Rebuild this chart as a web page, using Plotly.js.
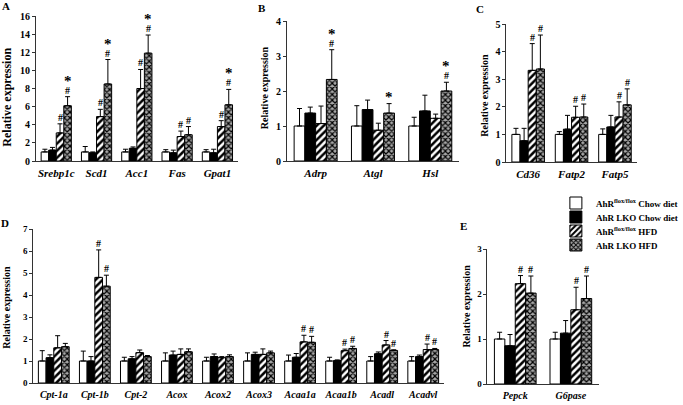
<!DOCTYPE html>
<html><head><meta charset="utf-8">
<script src="https://cdn.plot.ly/plotly-3.0.1.min.js"></script>
<style>html,body{margin:0;padding:0;background:#fff}#chart{width:683px;height:405px}</style>
</head><body><div id="chart"></div>
<script>
const seriesNames = ['AhR<sup>flox/flox</sup> Chow diet', 'AhR LKO Chow diet', 'AhR<sup>flox/flox</sup> HFD', 'AhR LKO HFD'];

// Panel A
const catsA = ['Srebp1c','Scd1','Acc1','Fas','Gpat1'];
const aWtChow = [1.0,1.0,1.0,1.0,1.0];
const aWtChowErr = [0.3,0.6,0.3,0.25,0.25];
const aKoChow = [1.2,0.9,1.4,0.9,0.9];
const aKoChowErr = [0.3,0.1,0.15,0.3,0.4];
const aWtHfd = [3.1,4.9,8.0,2.7,3.8];
const aWtHfdErr = [1.0,0.8,2.1,0.6,0.65];
const aKoHfd = [6.1,8.5,11.9,2.9,6.2];
const aKoHfdErr = [1.0,2.7,2.0,0.9,1.7];
const aHashWtHfd = [1,1,1,1,1];
const aHashKoHfd = [1,1,1,1,1];
const aStarKoHfd = [1,1,1,0,1];

// Panel B
const catsB = ['Adrp','Atgl','Hsl'];
const bWtChow = [1.0,1.0,1.0];
const bWtChowErr = [0.5,0.58,0.25];
const bKoChow = [1.37,1.47,1.43];
const bKoChowErr = [0.17,0.27,0.45];
const bWtHfd = [1.07,0.88,1.22];
const bWtHfdErr = [0.5,0.2,0.12];
const bKoHfd = [2.33,1.37,2.0];
const bKoHfdErr = [0.85,0.27,0.25];
const bHashWtHfd = [0,0,0];
const bHashKoHfd = [1,0,1];
const bStarKoHfd = [1,1,1];

// Panel C
const catsC = ['Cd36','Fatp2','Fatp5'];
const cWtChow = [1.0,1.0,1.0];
const cWtChowErr = [0.22,0.1,0.2];
const cKoChow = [0.77,1.19,1.27];
const cKoChowErr = [0.45,0.5,0.42];
const cWtHfd = [3.32,1.62,1.63];
const cWtHfdErr = [0.97,0.4,0.55];
const cKoHfd = [3.37,1.63,2.07];
const cKoHfdErr = [1.23,0.47,0.58];
const cHashWtHfd = [1,1,1];
const cHashKoHfd = [1,1,1];
const cStarKoHfd = [0,0,0];

// Panel D
const catsD = ['Cpt-1a','Cpt-1b','Cpt-2','Acox','Acox2','Acox3','Acaa1a','Acaa1b','Acadl','Acadvl'];
const dWtChow = [1.0,1.0,1.0,1.0,1.0,1.0,1.0,1.0,1.0,1.0];
const dWtChowErr = [0.47,0.45,0.17,0.37,0.17,0.37,0.27,0.17,0.2,0.2];
const dKoChow = [1.15,1.0,1.1,1.27,1.2,1.3,1.17,1.02,1.33,1.2];
const dKoChowErr = [0.13,0.2,0.1,0.18,0.12,0.1,0.17,0.03,0.08,0.07];
const dWtHfd = [1.6,4.8,1.38,1.3,1.15,1.3,1.87,1.47,1.73,1.52];
const dWtHfdErr = [0.55,1.25,0.12,0.25,0.05,0.25,0.3,0.07,0.2,0.25];
const dKoHfd = [1.65,4.4,1.2,1.42,1.2,1.37,1.85,1.57,1.48,1.52];
const dKoHfdErr = [0.15,0.5,0.05,0.13,0.08,0.08,0.27,0.1,0.03,0.05];
const dHashWtHfd = [0,1,0,0,0,0,1,1,1,1];
const dHashKoHfd = [0,1,0,0,0,0,1,1,1,1];
const dStarKoHfd = [0,0,0,0,0,0,0,0,0,0];

// Panel E
const catsE = ['Pepck','G6pase'];
const eWtChow = [1.0,1.0];
const eWtChowErr = [0.15,0.15];
const eKoChow = [0.85,1.13];
const eKoChowErr = [0.25,0.28];
const eWtHfd = [2.23,1.65];
const eWtHfdErr = [0.18,0.5];
const eKoHfd = [2.02,1.9];
const eKoHfdErr = [0.38,0.5];
const eHashWtHfd = [1,1];
const eHashKoHfd = [1,1];
const eStarKoHfd = [0,0];

const SERIF = 'Liberation Serif, Times New Roman, serif';
const styles = [
  {color:'#ffffff', pattern:{shape:''}},
  {color:'#000000', pattern:{shape:''}},
  {color:'#ffffff', pattern:{shape:'/', fgcolor:'#000', bgcolor:'#fff', size:5, solidity:0.5}},
  {color:'#ffffff', pattern:{shape:'x', fgcolor:'#000', bgcolor:'#a8a8a8', size:4, solidity:0.5}}
];
const BARGAP = 0.25;
const nSeries = 4;
const barW = (1 - BARGAP) / nSeries;
const offsets = [0,1,2,3].map(j => -(1-BARGAP)/2 + barW*(j+0.5));
const legendIds = ['legend','legend2','legend3','legend4'];

const traces = [];
const annotations = [];

function panel(idx, cats, vals, errs, hashWt, hashKo, starKo, showLegend) {
  const xa = idx === 1 ? 'x' : 'x' + idx;
  const ya = idx === 1 ? 'y' : 'y' + idx;
  for (let j = 0; j < 4; j++) {
    traces.push({
      type:'bar', x: cats, y: vals[j], name: seriesNames[j],
      xaxis: xa, yaxis: ya, showlegend: showLegend, legend: legendIds[j],
      marker: {color: styles[j].color, line:{color:'#000', width:1}, pattern: styles[j].pattern},
      error_y: {type:'data', symmetric:false, array: errs[j], arrayminus: errs[j].map(() => 0),
                color:'#000', thickness:1, width:2.5},
      hoverinfo:'skip'
    });
  }
  const marks = [[2, hashWt, null], [3, hashKo, starKo]];
  marks.forEach(([j, hashArr, starArr]) => {
    cats.forEach((c, i) => {
      const top = vals[j][i] + errs[j][i];
      let shift = 0;
      if (hashArr[i]) {
        annotations.push({xref: xa, yref: ya, x: i + offsets[j], y: top, text:'#', showarrow:false,
          yanchor:'bottom', yshift: -1, font:{family:SERIF, size:10, color:'#000', weight:'bold'}});
        shift = 9;
      }
      if (starArr && starArr[i]) {
        annotations.push({xref: xa, yref: ya, x: i + offsets[j], y: top, text:'*', showarrow:false,
          yanchor:'bottom', yshift: shift - 3, font:{family:SERIF, size:15, color:'#000', weight:'bold'}});
      }
    });
  });
}

panel(1, catsA, [aWtChow,aKoChow,aWtHfd,aKoHfd], [aWtChowErr,aKoChowErr,aWtHfdErr,aKoHfdErr], aHashWtHfd, aHashKoHfd, aStarKoHfd, true);
panel(2, catsB, [bWtChow,bKoChow,bWtHfd,bKoHfd], [bWtChowErr,bKoChowErr,bWtHfdErr,bKoHfdErr], bHashWtHfd, bHashKoHfd, bStarKoHfd, false);
panel(3, catsC, [cWtChow,cKoChow,cWtHfd,cKoHfd], [cWtChowErr,cKoChowErr,cWtHfdErr,cKoHfdErr], cHashWtHfd, cHashKoHfd, cStarKoHfd, false);
panel(4, catsD, [dWtChow,dKoChow,dWtHfd,dKoHfd], [dWtChowErr,dKoChowErr,dWtHfdErr,dKoHfdErr], dHashWtHfd, dHashKoHfd, dStarKoHfd, false);
panel(5, catsE, [eWtChow,eKoChow,eWtHfd,eKoHfd], [eWtChowErr,eKoChowErr,eWtHfdErr,eKoHfdErr], eHashWtHfd, eHashKoHfd, eStarKoHfd, false);

const W = 683, H = 405;
function xd(a, b) { return [a / W, b / W]; }
function yd(top, bottom) { return [(H - bottom) / H, (H - top) / H]; }

function xAxis(dom, anchor, size) {
  return {domain: dom, anchor: anchor, showline:true, linecolor:'#333', linewidth:1, ticks:'',
    showgrid:false, zeroline:false, fixedrange:true, ticklabelstandoff: 2,
    tickfont:{family:SERIF, size:size, color:'#000', weight:'bold', style:'italic'}};
}
function yAxis(dom, anchor, range, dtick, size) {
  return {domain: dom, anchor: anchor, range: range, dtick: dtick, showline:true, linecolor:'#333', linewidth:1,
    ticks:'outside', ticklen:3, tickwidth:1, tickcolor:'#333', showgrid:false, zeroline:false, fixedrange:true,
    tickfont:{family:SERIF, size:size, color:'#000', weight:'bold'}};
}

function txt(x, y, text, size, angle) {
  return {xref:'paper', yref:'paper', x: x / W, y: (H - y) / H, text: text, showarrow:false,
    textangle: angle || 0, xanchor:'center', yanchor:'middle',
    font:{family:SERIF, size:size, color:'#000', weight:'bold'}};
}
annotations.push(txt(6, 6, 'A', 11));
annotations.push(txt(276, 8, 'B', 11));
annotations.push(txt(505, 9, 'C', 11));
annotations.push(txt(5, 223, 'D', 11));
annotations.push(txt(488, 226, 'E', 11));
annotations.push(txt(7, 97, 'Relative expression', 12, -90));
annotations.push(txt(278, 88, 'Relative expression', 10, -90));
annotations.push(txt(509, 95, 'Relative expression', 10, -90));
annotations.push(txt(6, 307, 'Relative expression', 10, -90));
annotations.push(txt(490, 306, 'Relative expression', 10, -90));

function legendAt(yc) {
  return {x: 585 / W, y: (H - yc) / H, xanchor:'left', yanchor:'middle', bgcolor:'rgba(0,0,0,0)',
    font:{family:SERIF, size:9, color:'#000', weight:'bold'}, itemwidth: 30};
}

const layout = {
  width: W, height: H, margin:{l:0, r:0, t:0, b:0}, paper_bgcolor:'#fff', plot_bgcolor:'rgba(0,0,0,0)',
  barmode:'group', bargap: BARGAP, bargroupgap: 0,
  font:{family:SERIF, color:'#000'},
  xaxis: xAxis(xd(38, 250), 'y', 11),
  yaxis: yAxis(yd(16, 161), 'x', [0, 16], 2, 10),
  xaxis2: xAxis(xd(302, 483), 'y2', 11),
  yaxis2: yAxis(yd(21, 161), 'x2', [0, 4], 1, 10),
  xaxis3: xAxis(xd(533, 670), 'y3', 11),
  yaxis3: yAxis(yd(24, 162), 'x3', [0, 5], 1, 10),
  xaxis4: xAxis(xd(35, 467), 'y4', 10),
  yaxis4: yAxis(yd(229, 383), 'x4', [0, 7], 1, 9),
  xaxis5: xAxis(xd(513, 630), 'y5', 10),
  yaxis5: yAxis(yd(249, 384), 'x5', [0, 3], 1, 9),
  showlegend: true,
  legend: legendAt(203),
  legend2: legendAt(217),
  legend3: legendAt(231),
  legend4: legendAt(245),
  annotations: annotations
};

Plotly.newPlot('chart', traces, layout, {staticPlot:true, displayModeBar:false});
</script>
</body></html>
